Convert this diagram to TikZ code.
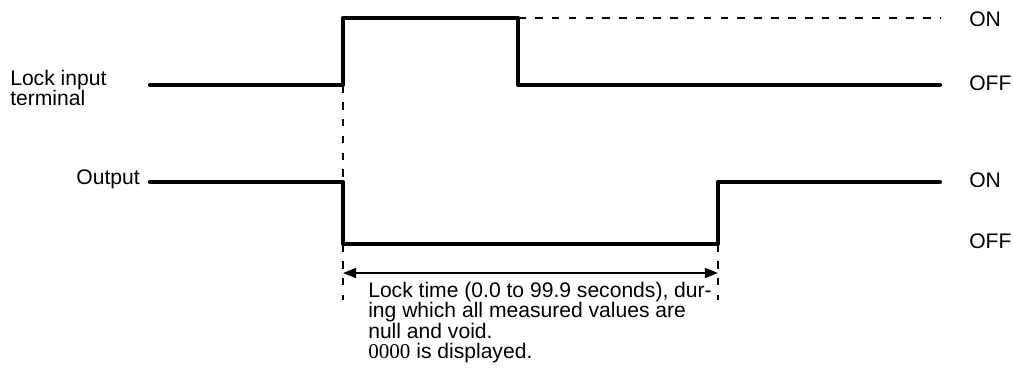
\documentclass[tikz,border=0pt]{standalone}
\usepackage{fontspec}
\setmainfont{Liberation Sans}
\newfontfamily\digitfont{Liberation Serif}
\usetikzlibrary{arrows.meta}
\usetikzlibrary{positioning}

\begin{document}
\begin{tikzpicture}[x=0.025cm,y=-0.025cm,
        signal/.style={line width=3pt, line join=round, line cap=round},
        guide/.style={line width=1.3pt, dash pattern=on 5.5pt off 6.5pt},
        span/.style={line width=1.4pt, {Triangle[length=3.3mm,width=2.5mm]}-{Triangle[length=3.3mm,width=2.5mm]}},
        lbl/.style={font=\fontsize{15}{14.5}\selectfont, inner sep=0pt}]
        \useasboundingbox (0,0) rectangle (1013,370);

        %% Lock input signal
        \coordinate (lockstart) at (150,85);
        \coordinate (lockup) at (343,85);
        \coordinate (lockhigh) at (343,18);
        \coordinate (lockfall) at (518,18);
        \coordinate (locklow) at (518,85);
        \coordinate (lockend) at (940,85);
        \coordinate (lockon) at (940,18);

        %% Output signal
        \coordinate (outstart) at (150,182);
        \coordinate (outdown) at (343,182);
        \coordinate (outlow) at (343,244);
        \coordinate (outrise) at (718,244);
        \coordinate (outhigh) at (718,182);
        \coordinate (outend) at (940,182);

        %% Lock time span
        \coordinate (spanleft) at (343,273);
        \coordinate (spanright) at (718,273);
        \coordinate (tickleft) at (343,300);
        \coordinate (tickright) at (718,300);

        %% Labels
        \node[lbl, anchor=north west, align=left] (locklbl) at (10,70) {Lock input\\terminal};
        \node[lbl, anchor=base east] (outlbl) at (140,184) {Output};
        \node[lbl, anchor=base west] (lockonlbl) at (969,26) {ON};
        \node[lbl, anchor=base west] (lockofflbl) at (969,90) {OFF};
        \node[lbl, anchor=base west] (outonlbl) at (969,187) {ON};
        \node[lbl, anchor=base west] (outofflbl) at (969,248) {OFF};
        \node[lbl, anchor=north west, align=left] (note) at (368,282)
            {Lock time (0.0 to 99.9 seconds), dur-\\ing which all measured values are\\null and void.\\{\digitfont 0000} is displayed.};

        \draw[signal] (lockstart) -- (lockup) -- (lockhigh) -- (lockfall) -- (locklow) -- (lockend);
        \draw[signal] (outstart) -- (outdown) -- (outlow) -- (outrise) -- (outhigh) -- (outend);

        \draw[guide] (lockfall) -- (lockon);
        \draw[guide] (lockup) -- (outdown);
        \draw[guide] (outlow) -- (tickleft);
        \draw[guide] (outrise) -- (tickright);

        \draw[span] (spanleft) -- (spanright);

\end{tikzpicture}
\end{document}
